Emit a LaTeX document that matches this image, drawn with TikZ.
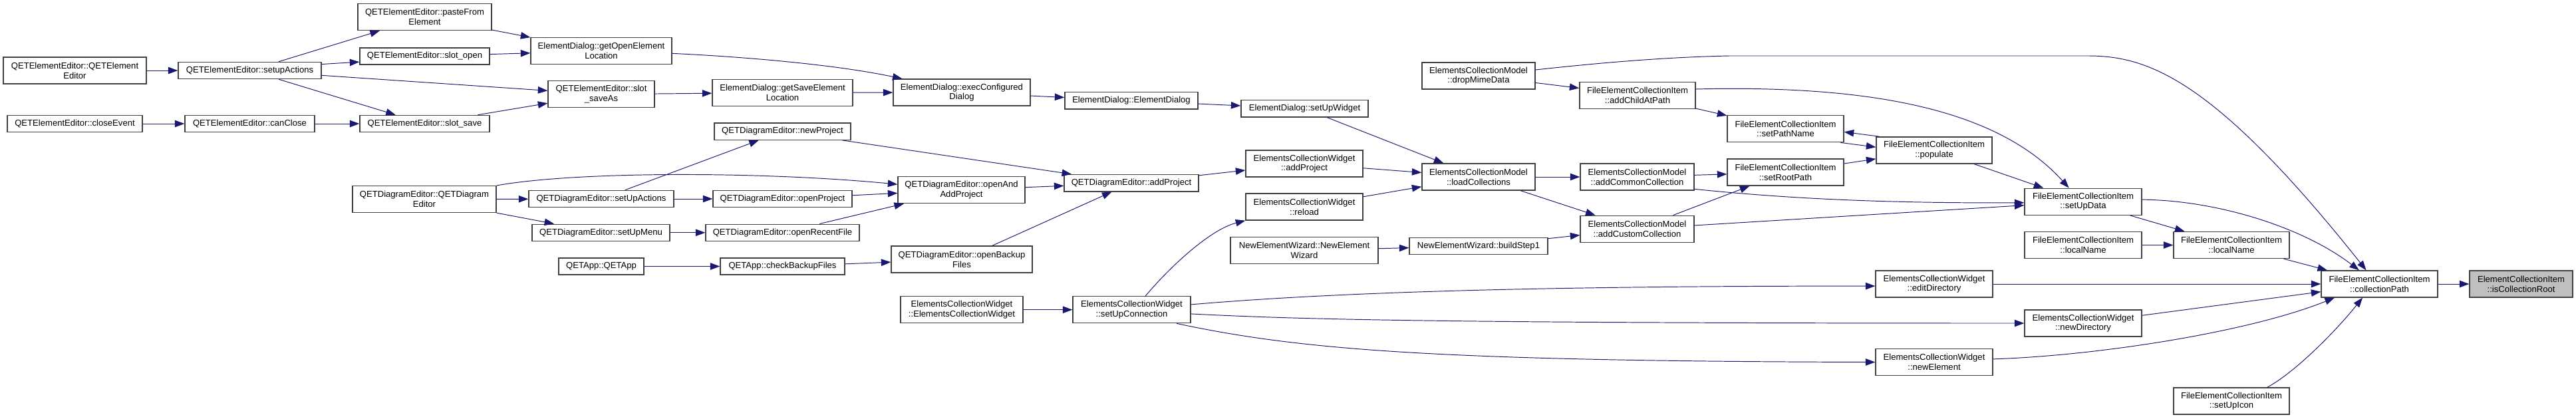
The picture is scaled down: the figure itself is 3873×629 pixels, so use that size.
\documentclass[tikz,border=0pt]{standalone}
\usepackage{fontspec}
\setmainfont{Liberation Sans}
\usepackage{tikz}
\usetikzlibrary{arrows.meta}
\definecolor{callblue}{HTML}{191970}
\definecolor{boxline}{HTML}{404040}
\definecolor{rootfill}{HTML}{BFBFBF}
\tikzset{
  fn/.style={draw=boxline, line width=0.75pt, fill=white, align=center, inner sep=0pt,
    minimum height=0.8cm, font=\fontsize{7.45}{8.37}\selectfont},
  fn1/.style={fn, minimum height=0.506cm},
  hilite/.style={fn, fill=rootfill},
  wd/.style={minimum width=#1*0.02cm},
  call/.style={draw=callblue, line width=0.55pt, -{Triangle[length=0.29cm,width=0.21cm]}}
}
\begin{document}
\begin{tikzpicture}[x=0.02cm, y=-0.02cm]
  \useasboundingbox (0,0) rectangle (3873,629);

  \node[fn, wd=215] (eeQet) at (112.5,106) {QETElementEditor::QETElement\\Editor};
  \node[fn1, wd=203] (eeClose) at (112.5,186) {QETElementEditor::closeEvent};
  \node[fn1, wd=215] (eeActions) at (375.5,106) {QETElementEditor::setupActions};
  \node[fn1, wd=195] (eeCanClose) at (375.5,186) {QETElementEditor::canClose};
  \node[fn, wd=201] (eePaste) at (638.5,25.6) {QETElementEditor::pasteFrom\\Element};
  \node[fn1, wd=195] (eeOpen) at (638.5,84.5) {QETElementEditor::slot\_open};
  \node[fn1, wd=195] (eeSave) at (638.5,186) {QETElementEditor::slot\_save};
  \node[fn, wd=216] (deQet) at (638,299.6) {QETDiagramEditor::QETDiagram\\Editor};
  \node[fn, wd=212] (dlgOpen) at (904,76.6) {ElementDialog::getOpenElement\\Location};
  \node[fn, wd=160] (eeSaveAs) at (904,141.8) {QETElementEditor::slot\\\_saveAs};
  \node[fn, wd=211] (dlgSave) at (1176.5,139.2) {ElementDialog::getSaveElement\\Location};
  \node[fn1, wd=205] (deNew) at (1176.5,197.6) {QETDiagramEditor::newProject};
  \node[fn1, wd=218] (deActions) at (904,299) {QETDiagramEditor::setUpActions};
  \node[fn1, wd=209] (deOpen) at (1176.5,299) {QETDiagramEditor::openProject};
  \node[fn1, wd=207] (deMenu) at (903.5,349.8) {QETDiagramEditor::setUpMenu};
  \node[fn1, wd=231] (deRecent) at (1176.5,349.8) {QETDiagramEditor::openRecentFile};
  \node[fn1, wd=128] (appQet) at (904,400.5) {QETApp::QETApp};
  \node[fn1, wd=187] (appBackup) at (1176.5,400.5) {QETApp::checkBackupFiles};
  \node[fn, wd=206] (dlgExec) at (1446,139) {ElementDialog::execConfigured\\Dialog};
  \node[fn1, wd=200] (dlgCtor) at (1701,151.4) {ElementDialog::ElementDialog};
  \node[fn1, wd=191] (dlgWidget) at (1961.5,163.4) {ElementDialog::setUpWidget};
  \node[fn, wd=191] (deOpenAdd) at (1445.5,285.6) {QETDiagramEditor::openAnd\\AddProject};
  \node[fn1, wd=202] (deAdd) at (1701,275.2) {QETDiagramEditor::addProject};
  \node[fn, wd=212] (deBackup) at (1446,390) {QETDiagramEditor::openBackup\\Files};
  \node[fn, wd=184] (ecwCtor) at (1446,465.7) {ElementsCollectionWidget\\::ElementsCollectionWidget};
  \node[fn, wd=177] (ecwConn) at (1701.5,465.7) {ElementsCollectionWidget\\::setUpConnection};
  \node[fn, wd=176] (ecwAdd) at (1961,246) {ElementsCollectionWidget\\::addProject};
  \node[fn, wd=176] (ecwReload) at (1961,311) {ElementsCollectionWidget\\::reload};
  \node[fn, wd=222] (wizCtor) at (1961,376.5) {NewElementWizard::NewElement\\Wizard};
  \node[fn, wd=170] (ecmDrop) at (2223,114) {ElementsCollectionModel\\::dropMimeData};
  \node[fn, wd=174] (feiChild) at (2462,143.2) {FileElementCollectionItem\\::addChildAtPath};
  \node[fn, wd=170] (ecmLoad) at (2223,266) {ElementsCollectionModel\\::loadCollections};
  \node[fn, wd=171] (ecmCommon) at (2461.5,266) {ElementsCollectionModel\\::addCommonCollection};
  \node[fn, wd=171] (ecmCustom) at (2461.5,344.2) {ElementsCollectionModel\\::addCustomCollection};
  \node[fn1, wd=208] (wizStep) at (2223,370) {NewElementWizard::buildStep1};
  \node[fn, wd=175] (feiPath) at (2684.5,193.75) {FileElementCollectionItem\\::setPathName};
  \node[fn, wd=175] (feiRoot) at (2684.5,259.1) {FileElementCollectionItem\\::setRootPath};
  \node[fn, wd=174] (feiPop) at (2908,225.85) {FileElementCollectionItem\\::populate};
  \node[fn, wd=176] (feiData) at (3132,303.25) {FileElementCollectionItem\\::setUpData};
  \node[fn, wd=176] (feiName) at (3132,368.5) {FileElementCollectionItem\\::localName};
  \node[fn, wd=176] (ecwEdit) at (2908,427) {ElementsCollectionWidget\\::editDirectory};
  \node[fn, wd=176] (ecwNewDir) at (3132,486) {ElementsCollectionWidget\\::newDirectory};
  \node[fn, wd=176] (ecwNewElmt) at (2908,544.5) {ElementsCollectionWidget\\::newElement};
  \node[fn, wd=174] (feiName2) at (3355,368.5) {FileElementCollectionItem\\::localName};
  \node[fn, wd=175] (feiColl) at (3577.5,427) {FileElementCollectionItem\\::collectionPath};
  \node[hilite, wd=155] (eciRoot) at (3790.5,427) {ElementCollectionItem\\::isCollectionRoot};
  \node[fn, wd=174] (feiIcon) at (3355,603) {FileElementCollectionItem\\::setUpIcon};

  \draw[call] (eeQet) -- (eeActions);
  \draw[call] (eeClose) -- (eeCanClose);
  \draw[call] (eeActions) -- (eePaste);
  \draw[call] (eeActions.5) -- (eeOpen.185);
  \draw[call] (eeActions) -- (eeSaveAs);
  \draw[call] (eeActions) -- (eeSave);
  \draw[call] (eeCanClose) -- (eeSave);
  \draw[call] (eePaste) -- (dlgOpen);
  \draw[call] (eeOpen) -- (dlgOpen);
  \draw[call] (eeSave) -- (eeSaveAs);
  \draw[call] (eeSaveAs) -- (dlgSave);
  \draw[call] (dlgOpen.-2) .. controls (1130,86) and (1260,98) .. (dlgExec.167);
  \draw[call] (dlgSave) -- (dlgExec);
  \draw[call] (dlgExec) -- (dlgCtor);
  \draw[call] (dlgCtor) -- (dlgWidget);
  \draw[call] (dlgWidget) -- (ecmLoad);
  \draw[call] (deQet) -- (deActions);
  \draw[call] (deQet) -- (deMenu);
  \draw[call] (deQet.north east) .. controls (870,257) and (1150,258) .. (deOpenAdd.175);
  \draw[call] (deActions) -- (deNew);
  \draw[call] (deActions) -- (deOpen);
  \draw[call] (deMenu) -- (deRecent);
  \draw[call] (appQet) -- (appBackup);
  \draw[call] (deNew) -- (deAdd);
  \draw[call] (deOpen) -- (deOpenAdd);
  \draw[call] (deRecent) -- (deOpenAdd);
  \draw[call] (appBackup) -- (deBackup);
  \draw[call] (deOpenAdd) -- (deAdd);
  \draw[call] (deBackup) -- (deAdd);
  \draw[call] (deAdd) -- (ecwAdd);
  \draw[call] (ecwCtor) -- (ecwConn);
  \draw[call] (ecwConn.45) .. controls (1760,400) and (1820,345) .. (ecwReload.south west);
  \draw[call] (ecwConn.5) .. controls (2000,440) and (2300,430) .. (ecwEdit.182);
  \draw[call] (ecwConn.-4) .. controls (1950,480) and (2150,486) .. (ecwNewDir.west);
  \draw[call] (ecwConn.-17) .. controls (1950,525) and (2150,543) .. (ecwNewElmt.west);
  \draw[call] (ecwAdd) -- (ecmLoad);
  \draw[call] (ecwReload) -- (ecmLoad);
  \draw[call] (wizCtor) -- (wizStep);
  \draw[call] (wizStep) -- (ecmCustom);
  \draw[call] (ecmLoad) -- (ecmCommon);
  \draw[call] (ecmLoad) -- (ecmCustom);
  \draw[call] (ecmDrop) -- (feiChild);
  \draw[call] (ecmDrop.6) .. controls (2400,95) and (2500,86) .. (2600,84) -- (3140,84)
    .. controls (3230,84) and (3330,120) .. (feiColl.134);
  \draw[call] (feiChild) -- (feiPath);
  \draw[call] (feiChild.6) .. controls (2800,128) and (3000,160) .. (feiData.136);
  \draw[call] (ecmCommon) -- (feiRoot);
  \draw[call] (ecmCommon.-12) .. controls (2700,300) and (2850,305.6) .. (feiData.181);
  \draw[call] (ecmCustom) -- (feiRoot);
  \draw[call] (ecmCustom) -- (feiData);
  \draw[call] (feiPath.-14) -- (feiPop.177);
  \draw[call] (feiPop.166) -- (feiPath.-3);
  \draw[call] (feiRoot) -- (feiPop);
  \draw[call] (feiPop) -- (feiData);
  \draw[call] (feiData.2) .. controls (3330,301) and (3460,340) .. (feiColl.146);
  \draw[call] (feiData) -- (feiName2);
  \draw[call] (feiName) -- (feiName2);
  \draw[call] (feiName2) -- (feiColl);
  \draw[call] (ecwEdit) -- (feiColl);
  \draw[call] (ecwNewDir) -- (feiColl);
  \draw[call] (ecwNewElmt.3) .. controls (3150,535) and (3380,500) .. (feiColl.197);
  \draw[call] (feiIcon.21) .. controls (3450,560) and (3510,500) .. (feiColl.219);
  \draw[call] (feiColl) -- (eciRoot);
\end{tikzpicture}
\end{document}
